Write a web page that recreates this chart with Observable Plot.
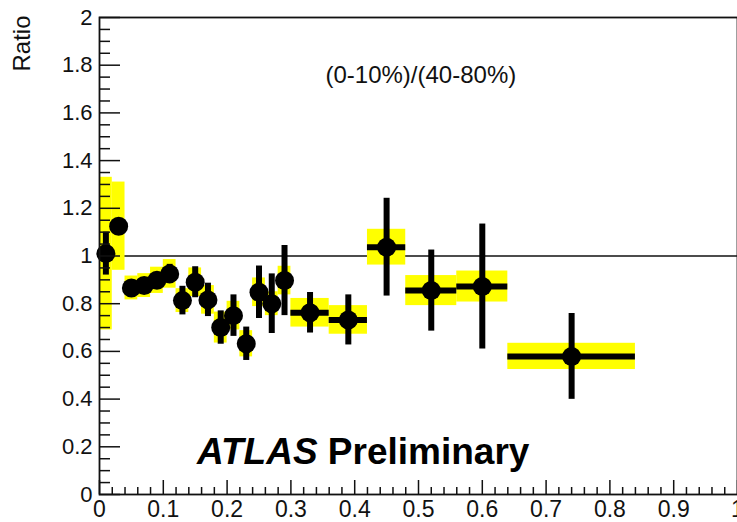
<!DOCTYPE html>
<html>
<head>
<meta charset="utf-8">
<script src="https://cdn.jsdelivr.net/npm/d3@7"></script>
<script src="https://cdn.jsdelivr.net/npm/@observablehq/plot@0.6"></script>
<style>
  html, body { margin: 0; padding: 0; background: #fff; }
  #chart { width: 737px; height: 522px; }
  svg { display: block; }
</style>
</head>
<body>
<div id="chart"></div>
<script>
// Bin edges (x) and ratio values
const binLo  = [0.00, 0.02, 0.04, 0.06, 0.08, 0.10, 0.12, 0.14, 0.16, 0.18, 0.20, 0.22, 0.24, 0.26, 0.28, 0.30, 0.36, 0.42, 0.48, 0.56, 0.64];
const binHi  = [0.02, 0.04, 0.06, 0.08, 0.10, 0.12, 0.14, 0.16, 0.18, 0.20, 0.22, 0.24, 0.26, 0.28, 0.30, 0.36, 0.42, 0.48, 0.56, 0.64, 0.84];
const ratio  = [1.01, 1.125, 0.866, 0.876, 0.898, 0.925, 0.813, 0.89, 0.816, 0.70, 0.75, 0.632, 0.848, 0.80, 0.897, 0.762, 0.732, 1.037, 0.855, 0.872, 0.579];
const statErr = [0.09, 0.02, 0.02, 0.02, 0.02, 0.04, 0.06, 0.065, 0.07, 0.07, 0.087, 0.07, 0.11, 0.125, 0.147, 0.085, 0.105, 0.205, 0.17, 0.262, 0.18];
const sysErr  = [0.32, 0.185, 0.05, 0.05, 0.055, 0.06, 0.05, 0.06, 0.06, 0.065, 0.06, 0.055, 0.06, 0.05, 0.06, 0.06, 0.06, 0.075, 0.063, 0.065, 0.055];

const yMajor = [0, 0.2, 0.4, 0.6, 0.8, 1, 1.2, 1.4, 1.6, 1.8, 2];
const yMinor = d3.range(0, 41).map(i => i * 0.05).filter(v => Math.abs(v / 0.2 - Math.round(v / 0.2)) > 1e-6);
const xMajor = [0, 0.1, 0.2, 0.3, 0.4, 0.5, 0.6, 0.7, 0.8, 0.9, 1];
const xMinor = d3.range(0, 51).map(i => i * 0.02).filter(v => Math.abs(v / 0.1 - Math.round(v / 0.1)) > 1e-6);

const refLine = [1];
const annotation = "(0-10%)/(40-80%)";
const yTitle = "Ratio";

const data = ratio.map((r, i) => ({
  lo: binLo[i], hi: binHi[i], x: (binLo[i] + binHi[i]) / 2,
  y: r, s1: r - statErr[i], s2: r + statErr[i], y1: r - sysErr[i], y2: r + sysErr[i]
}));

const W = 737, H = 522;
const mL = 99, mR = 0, mT = 17, mB = 28;
const plotW = W - mL - mR, plotH = H - mT - mB;
const font = "Liberation Sans, Arial, sans-serif";

const chart = Plot.plot({
  width: W, height: H,
  marginLeft: mL, marginRight: mR, marginTop: mT, marginBottom: mB,
  style: { fontFamily: font, background: "white", color: "#111" },
  x: { domain: [0, 1] },
  y: { domain: [0, 2] },
  marks: [
    Plot.ruleY(refLine, { stroke: "#111", strokeWidth: 1.5 }),
    Plot.rectY(data, { x1: "lo", x2: "hi", y1: "y1", y2: "y2", fill: "#ffff00" }),
    Plot.ruleY(data, { x1: "lo", x2: "hi", y: "y", stroke: "black", strokeWidth: 6 }),
    Plot.ruleX(data, { x: "x", y1: "s1", y2: "s2", stroke: "black", strokeWidth: 6 }),
    Plot.dot(data, { x: "x", y: "y", r: 9.5, fill: "black" }),
    // inward ticks
    Plot.tickY(yMajor, { y: d => d, insetRight: plotW - 21, stroke: "#111", strokeWidth: 1.5 }),
    Plot.tickY(yMinor, { y: d => d, insetRight: plotW - 11, stroke: "#111", strokeWidth: 1.5 }),
    Plot.tickX(xMajor, { x: d => d, insetTop: plotH - 14, stroke: "#111", strokeWidth: 1.5 }),
    Plot.tickX(xMinor, { x: d => d, insetTop: plotH - 7, stroke: "#111", strokeWidth: 1.5 }),
    Plot.frame({ stroke: "#111", strokeWidth: 1.8 }),
    Plot.axisY({ ticks: yMajor, tickSize: 0, tickPadding: 7, fontSize: 22, label: null, tickFormat: d => String(d) }),
    Plot.axisX({ ticks: xMajor, tickSize: 0, tickPadding: 6, fontSize: 23, label: null, tickFormat: d => String(d) }),
    Plot.text([annotation], { frameAnchor: "top-left", dx: 226, dy: 48, text: d => d, fontSize: 24, textAnchor: "start", fill: "#111" }),
    Plot.text([yTitle], { frameAnchor: "top-left", dx: -87, dy: -2, text: d => d, fontSize: 24, rotate: -90, textAnchor: "end", fill: "#111" })
  ]
});

document.getElementById("chart").appendChild(chart);

// ATLAS Preliminary label as real SVG text
const svg = d3.select(chart);
const t = svg.append("text")
  .attr("x", 197).attr("y", 464)
  .attr("text-anchor", "start")
  .attr("font-family", font).attr("font-size", 37).attr("font-weight", "bold").attr("fill", "black");
t.append("tspan").attr("font-style", "italic").text("ATLAS");
t.append("tspan").text(" Preliminary");
</script>
</body>
</html>
